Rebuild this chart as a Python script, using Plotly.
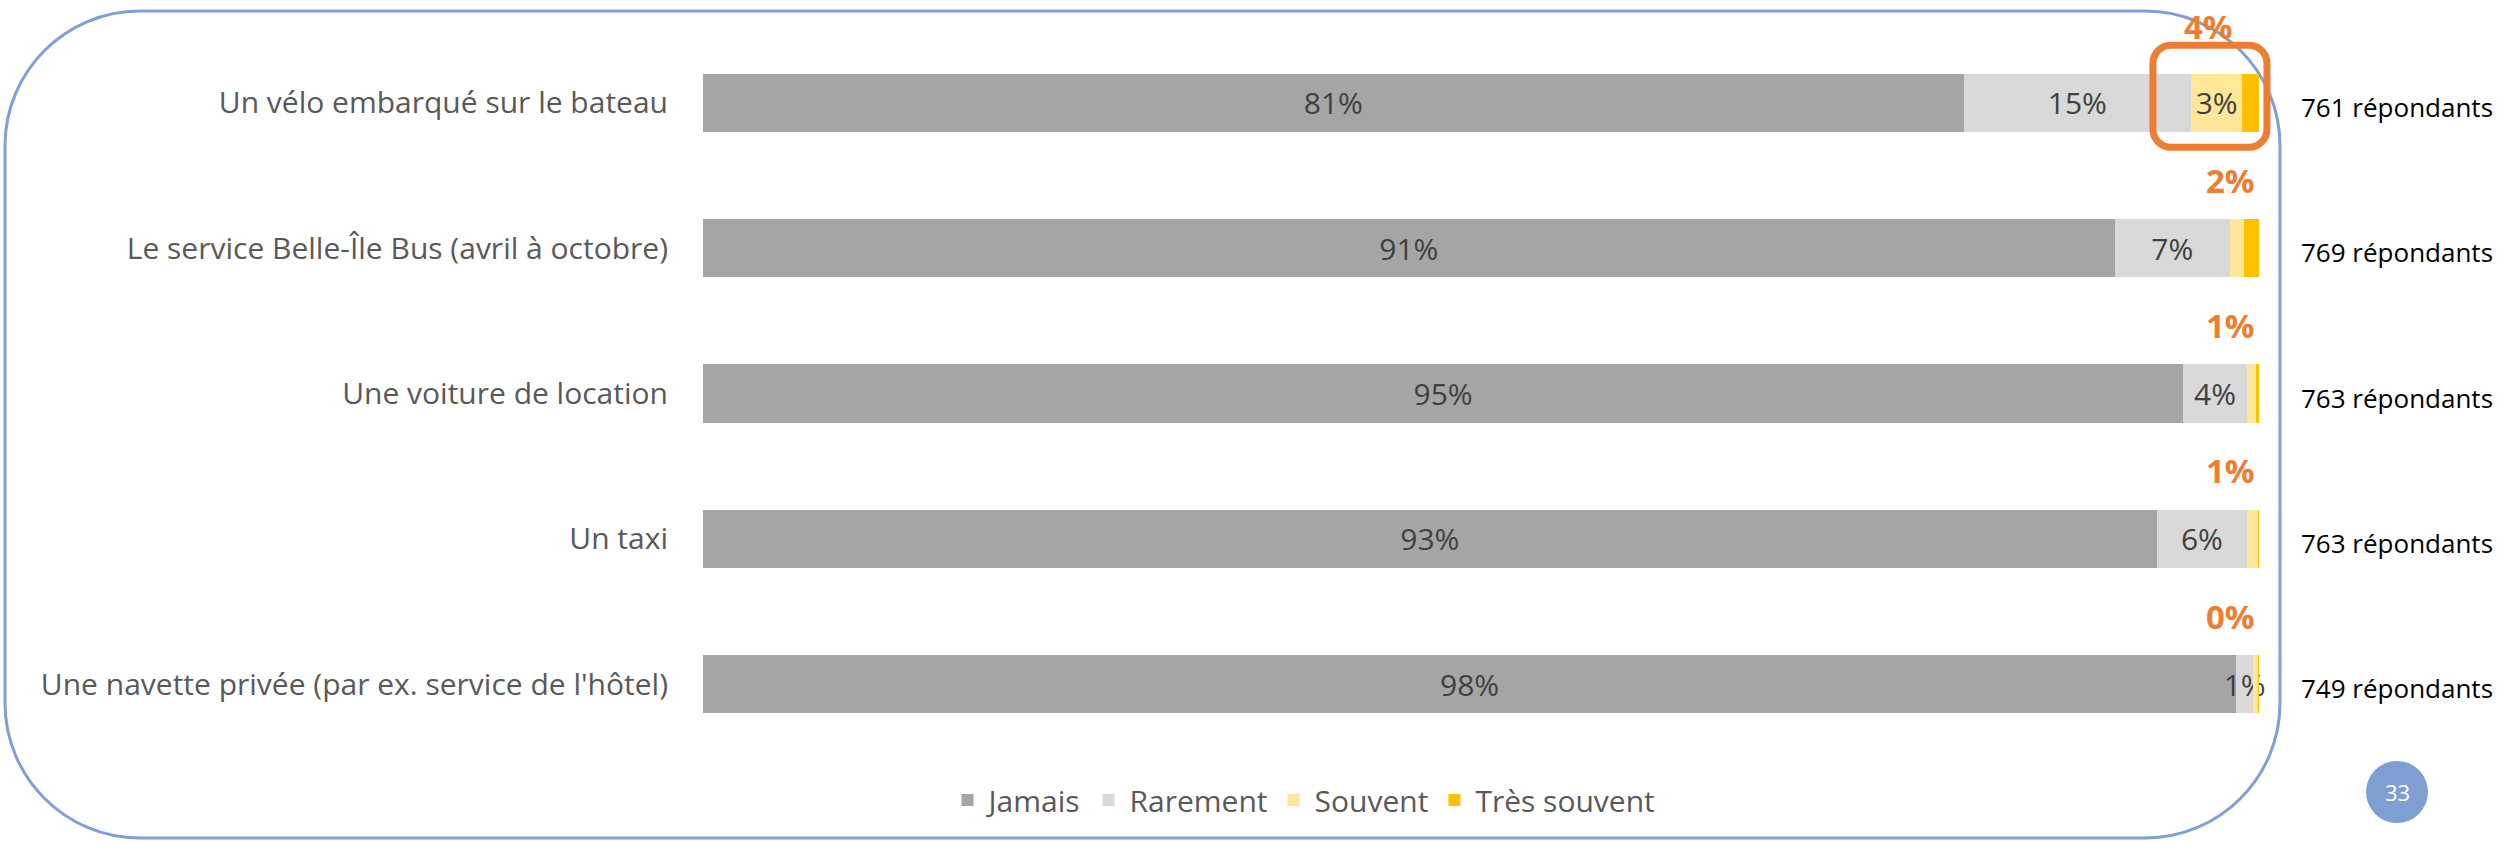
import plotly.graph_objects as go

categories = [
    "Un vélo embarqué sur le bateau",
    "Le service Belle-Île Bus (avril à octobre)",
    "Une voiture de location",
    "Un taxi",
    "Une navette privée (par ex. service de l'hôtel)",
]
jamais = [81.0, 90.7, 95.1, 93.4, 98.5]
rarement = [14.6, 7.4, 4.1, 5.8, 1.1]
souvent = [3.3, 0.9, 0.6, 0.7, 0.3]
tres_souvent = [1.1, 1.0, 0.2, 0.1, 0.1]
respondents = [761, 769, 763, 763, 749]
series_names = ["Jamais", "Rarement", "Souvent", "Très souvent"]
series_colors = ["#A5A5A5", "#D9D9D9", "#FFE699", "#FFC000"]
highlight_index = 0

FONT = "Open Sans"
W, H = 2504, 841
ML, MR, MT, MB = 703, 229, 30, 84


def labels(vals, show=True, min_val=1.0):
    if not show:
        return ["" for _ in vals]
    return [f"{round(v):.0f}%" if v >= min_val else "" for v in vals]


fig = go.Figure()
series = [jamais, rarement, souvent, tres_souvent]
texts = [labels(jamais), labels(rarement), labels(souvent, min_val=2.0), labels(tres_souvent, show=False)]
for name, vals, col, txt in zip(series_names, series, series_colors, texts):
    fig.add_trace(go.Bar(
        y=categories, x=vals, name=name, orientation="h",
        marker=dict(color=col, line=dict(width=0)),
        text=txt, textposition="inside", insidetextanchor="middle",
        textangle=0, textfont=dict(family=FONT, size=30, color="#404040"),
        hoverinfo="skip",
    ))

totals = [a + b + c + d for a, b, c, d in zip(jamais, rarement, souvent, tres_souvent)]
frequent = [c + d for c, d in zip(souvent, tres_souvent)]

annotations = []
for i, cat in enumerate(categories):
    if i == highlight_index:
        annotations.append(dict(
            x=totals[i], y=cat, xref="x", yref="y", text=f"<b>{round(frequent[i]):.0f}%</b>",
            showarrow=False, xanchor="center", yanchor="middle", xshift=-51, yshift=76,
            borderpad=0,
            font=dict(family=FONT, size=33, color="#ED7D31"),
        ))
    else:
        annotations.append(dict(
            x=totals[i], y=cat, xref="x", yref="y", text=f"<b>{round(frequent[i]):.0f}%</b>",
            showarrow=False, xanchor="right", yanchor="middle", xshift=-2, yshift=68,
            font=dict(family=FONT, size=33, color="#ED7D31"),
        ))
    annotations.append(dict(
        x=totals[i], y=cat, xref="x", yref="y", text=f"{respondents[i]} répondants",
        showarrow=False, xanchor="left", yanchor="middle", xshift=40, yshift=-4,
        font=dict(family=FONT, size=26, color="#000000"),
    ))

annotations.append(dict(
    x=0, y=0, xref="paper", yref="paper", xshift=1694, yshift=-35, text="33",
    showarrow=False, xanchor="center", yanchor="middle",
    font=dict(family=FONT, size=22, color="#FFFFFF"),
))


def rounded_rect(x0, y0, x1, y1, r):
    k = 0.5523 * r
    return (
        f"M{x0 + r},{y1} L{x1 - r},{y1} "
        f"C{x1 - r + k},{y1} {x1},{y1 - r + k} {x1},{y1 - r} "
        f"L{x1},{y0 + r} "
        f"C{x1},{y0 + r - k} {x1 - r + k},{y0} {x1 - r},{y0} "
        f"L{x0 + r},{y0} "
        f"C{x0 + r - k},{y0} {x0},{y0 + r - k} {x0},{y0 + r} "
        f"L{x0},{y1 - r} "
        f"C{x0},{y1 - r + k} {x0 + r - k},{y1} {x0 + r},{y1} Z"
    )


# plot-area bottom-left corner, in page pixels
PL, PB = ML, H - MB
shapes = [
    dict(type="path", xref="paper", yref="paper", xsizemode="pixel", ysizemode="pixel",
         xanchor=0, yanchor=0,
         path=rounded_rect(5 - PL, PB - 838, 2280 - PL, PB - 11, 135),
         line=dict(color="#7F9FD6", width=3), fillcolor="rgba(0,0,0,0)", layer="below"),
    dict(type="path", xref="x", yref="y", xsizemode="pixel", ysizemode="pixel",
         xanchor=totals[highlight_index], yanchor=categories[highlight_index],
         path=rounded_rect(-106.5, -44.5, 7.5, 57.5, 18),
         line=dict(color="#ED7D31", width=7), fillcolor="rgba(0,0,0,0)", layer="above"),
    dict(type="circle", xref="paper", yref="paper", xsizemode="pixel", ysizemode="pixel",
         xanchor=0, yanchor=0, x0=1663, x1=1725, y0=-66, y1=-4,
         line=dict(width=0), fillcolor="#7F9FD3", layer="above"),
]

fig.update_layout(
    barmode="stack", bargap=0.6,
    width=W, height=H,
    margin=dict(l=ML, r=MR, t=MT, b=MB, pad=0, autoexpand=False),
    paper_bgcolor="white", plot_bgcolor="white",
    font=dict(family=FONT, color="#595959"),
    xaxis=dict(range=[0, 101], visible=False, showgrid=False, zeroline=False,
               fixedrange=True, automargin=False),
    yaxis=dict(type="category", categoryorder="array", categoryarray=categories,
               range=[len(categories) - 0.5, -0.5], autorange=False,
               showgrid=False, zeroline=False, showline=False,
               ticks="", ticklabelstandoff=34, automargin=False,
               tickfont=dict(family=FONT, size=30, color="#595959"), fixedrange=True),
    legend=dict(orientation="h", x=0.382, xanchor="center", y=-0.059, yanchor="middle",
                font=dict(family=FONT, size=30, color="#595959"),
                itemwidth=32, traceorder="normal", bgcolor="rgba(0,0,0,0)"),
    uniformtext=dict(minsize=30, mode="show"),
    shapes=shapes,
    annotations=annotations,
    showlegend=True,
)

fig.write_html(
    "out.html",
    config={"displayModeBar": False, "staticPlot": True},
    post_script="document.body.style.margin='0px';document.body.style.overflow='hidden';",
)
